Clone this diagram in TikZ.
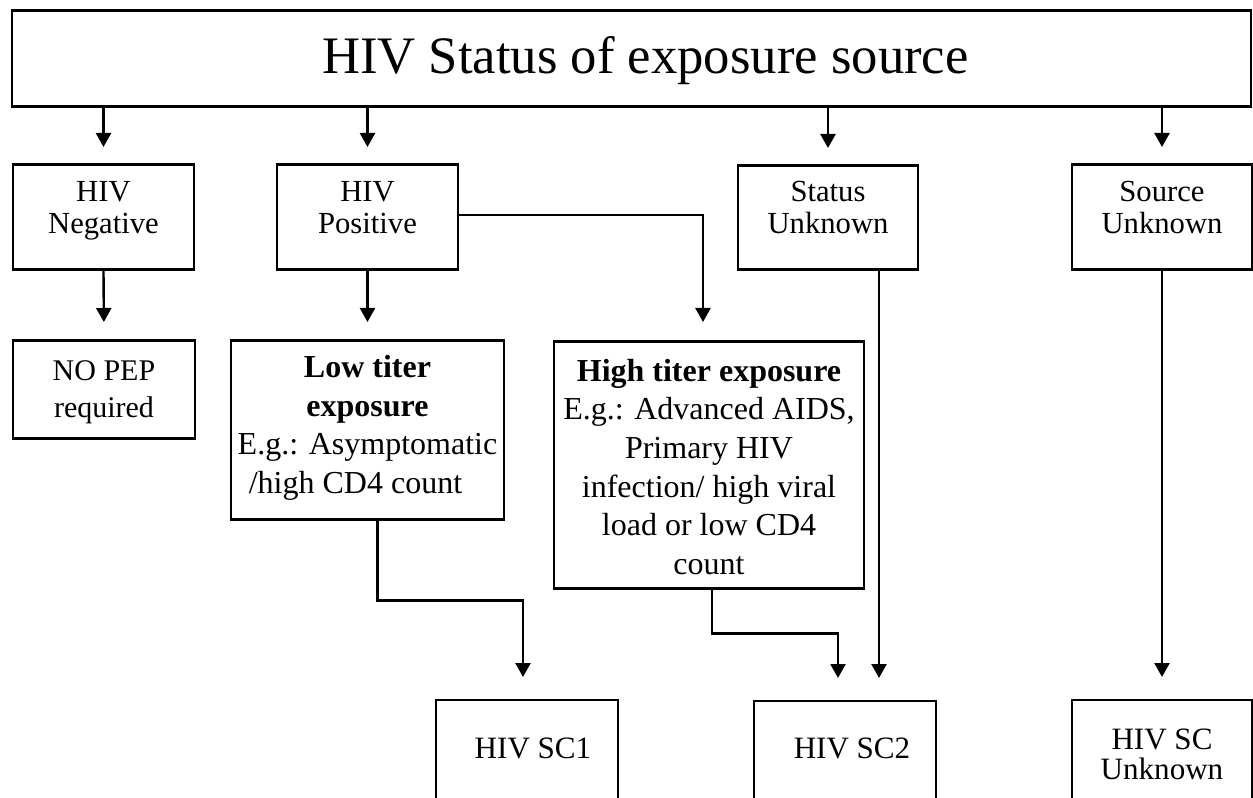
\documentclass[tikz,border=0pt]{standalone}
\usepackage{fontspec}
\setmainfont{Liberation Serif}
\usepackage{tikz}
\usetikzlibrary{arrows.meta,positioning,calc}
\newdimen\pxu
\pxu=0.75pt
\tikzset{
  box/.style={draw=black, line width=2pt, rectangle, inner xsep=0pt, inner ysep=0pt, align=center, anchor=north},
  endbox/.style={box, line width=1.5pt},
  rowfont/.style={font=\fontsize{23pt}{24pt}\selectfont},
  pepfont/.style={font=\fontsize{22.5pt}{27.75pt}\selectfont},
  titerfont/.style={font=\fontsize{24pt}{29pt}\selectfont},
  scfont/.style={font=\fontsize{23.3pt}{22.5pt}\selectfont},
  flow/.style={-{Triangle[length=10.5pt,width=11.25pt]}, line width=1.8pt, shorten >=17\pxu}
}
\begin{document}
\begin{tikzpicture}[x=0.75pt,y=-0.75pt]
  \useasboundingbox (0,0) rectangle (1253,798);
  \clip (0,0) rectangle (1253,798);
  % source status
  \node[box, minimum width=1239\pxu, text height=63\pxu, text depth=33\pxu, font=\fontsize{39.5pt}{45pt}\selectfont] (head) at (631.5,9) {\hspace*{28\pxu}HIV Status of exposure source};
  \node[box, rowfont, minimum width=181\pxu, text height=69\pxu, text depth=36\pxu] (neg) at (103.5,163) {HIV\\Negative};
  \node[box, rowfont, minimum width=181\pxu, text height=69\pxu, text depth=36\pxu] (pos) at (367.5,163) {HIV\\Positive};
  \node[box, rowfont, minimum width=180\pxu, text height=68\pxu, text depth=36\pxu] (unk) at (828,164) {Status\\Unknown};
  \node[box, rowfont, minimum width=180\pxu, text height=69\pxu, text depth=36\pxu] (nosrc) at (1162,163) {Source\\Unknown};
  % exposure level
  \node[box, pepfont, minimum width=182\pxu, text height=77\pxu, text depth=21\pxu] (nopep) at (104,339) {NO PEP\\required};
  \node[box, titerfont, minimum width=273\pxu, text height=153\pxu, text depth=26\pxu] (low) at (367.5,339) {\textbf{Low titer}\\\textbf{exposure}\\E.g.: Asymptomatic\\/high CD4 count\hspace*{24\pxu}};
  \node[box, titerfont, minimum width=310\pxu, text height=233\pxu, text depth=14\pxu] (high) at (709,340) {\textbf{High titer exposure}\\E.g.: Advanced AIDS,\\Primary HIV\\infection/ high viral\\load or low CD4\\count};
  % SC code
  \node[endbox, scfont, minimum width=182\pxu, text height=58\pxu, text depth=120\pxu] (scone) at (527,699) {\hspace*{12\pxu}HIV SC1};
  \node[endbox, scfont, minimum width=182\pxu, text height=57\pxu, text depth=120\pxu] (sctwo) at (845,700) {\hspace*{14\pxu}HIV SC2};
  \node[endbox, scfont, minimum width=180\pxu, text height=79\pxu, text depth=90\pxu] (scunk) at (1162,699) {HIV SC\\Unknown};
  \coordinate (sctwoa) at ([xshift=-7\pxu]sctwo.north);
  \coordinate (sctwob) at ([xshift=34\pxu]sctwo.north);
  % arrows
  \draw[flow, shorten >=16\pxu] (head.south -| neg.north) -- (neg.north);
  \draw[flow, shorten >=16\pxu] (head.south -| pos.north) -- (pos.north);
  \draw[flow, shorten >=16\pxu] (head.south -| unk.north) -- (unk.north);
  \draw[flow, shorten >=16\pxu] (head.south -| nosrc.north) -- (nosrc.north);
  \draw[flow] (neg.south) -- (nopep.north);
  \draw[flow] (pos.south) -- (low.north);
  \draw[flow, shorten >=18\pxu] ([yshift=2\pxu]pos.east) -| ([xshift=-6\pxu]high.north);
  \draw[flow, shorten >=22\pxu] ([xshift=10\pxu]low.south) -- ++(0,80) -| ([xshift=-4\pxu]scone.north);
  \draw[flow, shorten >=22\pxu] ([xshift=3\pxu]high.south) -- ++(0,44) -| (sctwoa);
  \draw[flow, shorten >=22\pxu] (unk.south -| sctwob) -- (sctwob);
  \draw[flow, shorten >=22\pxu] (nosrc.south) -- (scunk.north);
\end{tikzpicture}
\end{document}
